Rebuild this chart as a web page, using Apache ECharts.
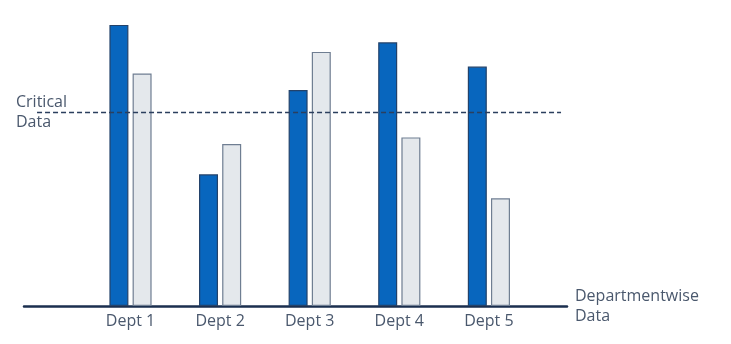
<!DOCTYPE html>
<html><head><meta charset="utf-8">
<script src="https://cdn.jsdelivr.net/npm/echarts@6/dist/echarts.min.js"></script>
<style>html,body{margin:0;padding:0;background:#fff}#c{width:731px;height:344px}</style>
</head><body><div id="c"></div>
<script>
const categories = ['Dept 1', 'Dept 2', 'Dept 3', 'Dept 4', 'Dept 5'];
const seriesA = [93.7, 43.9, 72, 87.9, 79.8];
const seriesB = [77.5, 54, 84.7, 56.2, 35.9];
const criticalValue = 64.6;
const criticalLabel = 'Critical\nData';
const xAxisTitle = 'Departmentwise\nData';

const textColor = '#4a586d';
const font = 'Open Sans';
const chart = echarts.init(document.getElementById('c'));
chart.setOption({
  animation: false,
  grid: [
    { left: 85.7, width: 448, top: 6, bottom: 38 },
    { left: 24, right: 164, top: 6, bottom: 38 }
  ],
  xAxis: [
    { type: 'category', gridIndex: 0, data: categories,
      axisLine: { show: false }, axisTick: { show: false },
      axisLabel: { color: textColor, fontSize: 16, fontFamily: font, margin: 7 } },
    { type: 'value', gridIndex: 1, min: 0, max: 100,
      axisLine: { show: true, onZero: false, lineStyle: { color: '#1b2f4f', width: 2.5 } },
      axisTick: { show: false }, axisLabel: { show: false }, splitLine: { show: false },
      name: xAxisTitle, nameLocation: 'end', nameGap: 8,
      nameTextStyle: { color: textColor, fontSize: 16, fontFamily: font, lineHeight: 20, align: 'left', verticalAlign: 'middle', padding: [2, 0, 0, 0] } }
  ],
  yAxis: [
    { type: 'value', gridIndex: 0, min: 0, max: 100, show: false },
    { type: 'value', gridIndex: 1, min: 0, max: 100, show: false }
  ],
  series: [
    { type: 'bar', xAxisIndex: 0, yAxisIndex: 0, data: seriesA, barWidth: 19, barGap: '22%',
      itemStyle: { color: '#0866be', borderColor: '#23426a', borderWidth: 1.2 } },
    { type: 'bar', xAxisIndex: 0, yAxisIndex: 0, data: seriesB, barWidth: 19,
      itemStyle: { color: '#e4e8ec', borderColor: '#6f7e92', borderWidth: 1.2 } },
    { type: 'line', xAxisIndex: 1, yAxisIndex: 1, data: [], silent: true,
      markLine: { silent: true, symbol: 'none', label: { show: false },
        lineStyle: { color: '#2b3f5e', width: 1.3, type: [5, 3] },
        data: [[{ coord: [2.4, criticalValue] }, { coord: [98.9, criticalValue] }]] } }
  ],
  graphic: [
    { type: 'text', left: 16, top: 92,
      style: { text: criticalLabel, fill: textColor, fontSize: 16, fontFamily: font, lineHeight: 20 } }
  ]
});
</script></body></html>
